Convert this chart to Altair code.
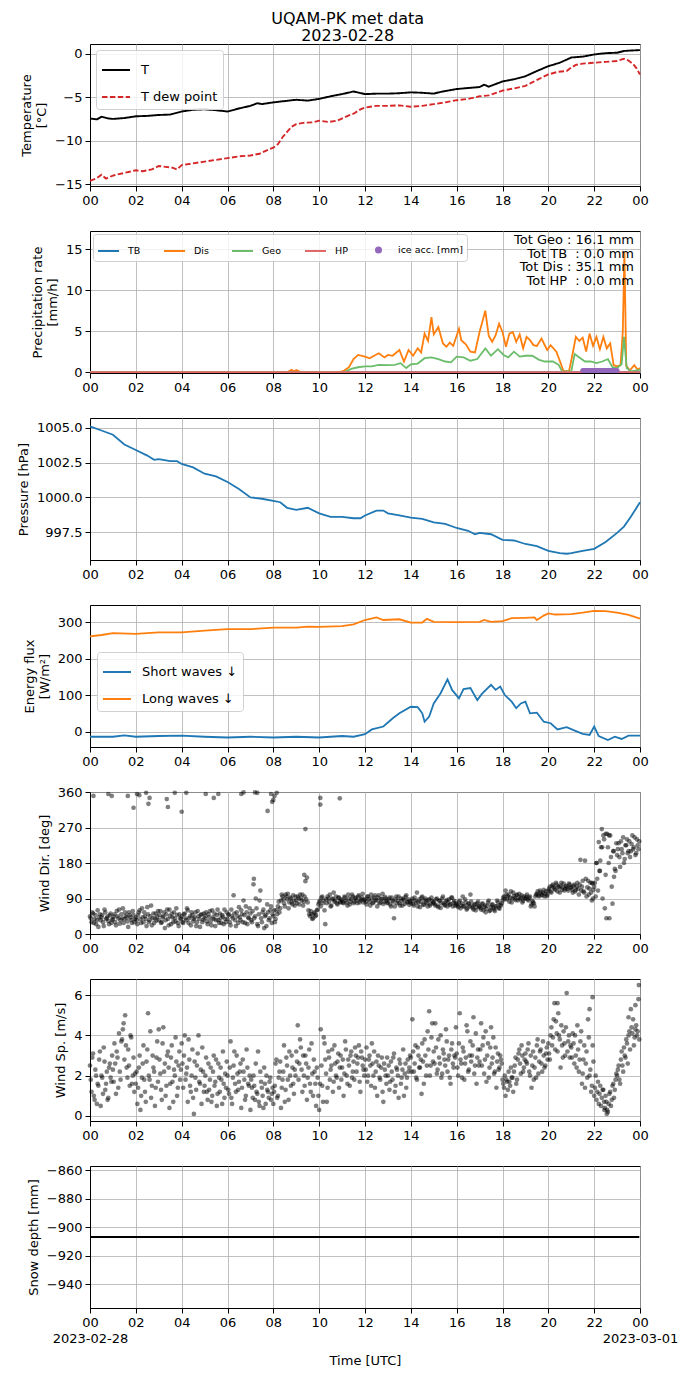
import altair as alt
import pandas as pd

FONT = "DejaVu Sans"
W, H = 550, 142

HOUR_TICKS = [0, 2, 4, 6, 8, 10, 12, 14, 16, 18, 20, 22, 24]

# ---------------- Temperature ----------------
t_hours = [0, 0.3, 0.5, 0.8, 1.0, 1.5, 2.0, 2.5, 3.0, 3.5, 4.0, 4.5, 5.0, 5.5, 6.0, 6.5, 7.0, 7.3, 7.5,
           8.0, 8.5, 9.0, 9.5, 10.0, 10.5, 11.0, 11.5, 12.0, 12.5, 13.0, 13.5, 14.0, 14.5, 15.0, 15.3,
           15.5, 16.0, 16.5, 17.0, 17.2, 17.4, 17.6, 18.0, 18.5, 19.0, 19.5, 20.0, 20.5, 21.0, 21.5,
           22.0, 22.5, 23.0, 23.3, 23.6, 24.0]
t_vals = [-7.45, -7.55, -7.25, -7.45, -7.5, -7.4, -7.2, -7.15, -7.05, -7.0, -6.65, -6.45, -6.4, -6.5,
          -6.65, -6.3, -6.0, -5.7, -5.8, -5.6, -5.45, -5.3, -5.4, -5.2, -4.9, -4.65, -4.35, -4.65,
          -4.6, -4.6, -4.55, -4.45, -4.5, -4.6, -4.4, -4.3, -4.07, -3.95, -3.84, -3.57, -3.8, -3.6,
          -3.2, -2.95, -2.6, -2.0, -1.45, -1.05, -0.45, -0.35, -0.1, 0.05, 0.1, 0.3, 0.35, 0.4]
td_hours = [0, 0.3, 0.5, 0.7, 1.0, 1.5, 2.0, 2.3, 2.7, 3.0, 3.3, 3.6, 3.8, 4.0, 4.5, 5.0, 5.5, 6.0,
            6.5, 7.0, 7.4, 7.8, 8.0, 8.2, 8.4, 8.6, 8.8, 9.0, 9.3, 9.7, 10.0, 10.4, 10.8, 11.2, 11.5,
            11.8, 12.0, 12.5, 13.0, 13.5, 14.0, 14.5, 15.0, 15.5, 16.0, 16.5, 17.0, 17.4, 18.0, 18.5,
            19.0, 19.3, 19.6, 20.0, 20.4, 20.8, 21.0, 21.2, 21.5, 22.0, 22.5, 23.0, 23.3, 23.5, 23.7,
            23.85, 24.0]
td_vals = [-14.6, -14.3, -13.9, -14.35, -14.0, -13.7, -13.4, -13.5, -13.3, -12.9, -13.0, -13.1, -13.3,
           -12.8, -12.6, -12.4, -12.2, -12.0, -11.8, -11.7, -11.5, -11.0, -10.8, -10.4, -9.6, -9.0,
           -8.4, -8.1, -7.95, -7.9, -7.7, -7.85, -7.7, -7.2, -6.9, -6.4, -6.2, -6.0, -6.0, -5.95,
           -6.1, -6.0, -5.8, -5.6, -5.35, -5.2, -4.9, -4.8, -4.25, -4.0, -3.7, -3.3, -2.9, -2.4,
           -2.1, -2.0, -1.6, -1.3, -1.15, -1.05, -0.95, -0.85, -0.6, -0.8, -1.2, -1.7, -2.4]

# ---------------- Precipitation ----------------
dis_pts = [(0, 0), (8.6, 0), (8.8, 0.3), (8.9, 0.1), (9.0, 0.25), (9.2, 0), (10.9, 0), (11.1, 0.2),
           (11.3, 0.6), (11.5, 1.6), (11.7, 2.1), (12.0, 1.9), (12.2, 1.7), (12.4, 2.0), (12.6, 2.3),
           (12.85, 1.8), (13.0, 2.1), (13.2, 2.0), (13.5, 2.7), (13.7, 1.3), (13.9, 2.7), (14.1, 2.0),
           (14.3, 2.9), (14.45, 2.4), (14.6, 4.7), (14.75, 3.8), (14.9, 6.7), (15.0, 4.6), (15.2, 5.5),
           (15.4, 3.5), (15.55, 3.1), (15.7, 3.6), (15.85, 3.2), (16.1, 5.3), (16.2, 3.9), (16.4, 3.4),
           (16.6, 2.5), (16.8, 2.4), (17.0, 4.9), (17.25, 7.5), (17.4, 4.4), (17.55, 3.7), (17.7, 4.5),
           (17.85, 5.9), (18.0, 4.9), (18.15, 3.1), (18.3, 4.7), (18.45, 4.9), (18.6, 3.7), (18.75, 4.6),
           (18.9, 2.9), (19.05, 4.3), (19.2, 3.9), (19.35, 3.3), (19.5, 3.2), (19.7, 4.1), (19.95, 2.7),
           (20.1, 3.3), (20.35, 2.5), (20.5, 1.4), (20.65, 0.2), (20.9, 0.1), (21.05, 2.1), (21.2, 4.3),
           (21.35, 3.8), (21.5, 4.2), (21.65, 2.5), (21.8, 4.7), (21.95, 3.2), (22.1, 4.3), (22.25, 2.8),
           (22.4, 4.3), (22.55, 2.9), (22.7, 3.5), (22.85, 0.85), (23.0, 0.7), (23.15, 0.85), (23.25, 5.0),
           (23.32, 14.6), (23.4, 0.8), (23.55, 0.2), (23.75, 0.85), (23.9, 0.3), (24.0, 0.5)]
geo_pts = [(0, 0), (11.1, 0), (11.4, 0.4), (11.7, 0.6), (12.0, 0.7), (12.3, 0.7), (12.6, 0.9), (13.0, 0.85),
           (13.3, 0.9), (13.55, 1.1), (13.8, 0.5), (14.0, 0.95), (14.3, 1.05), (14.6, 1.7), (14.9, 1.8),
           (15.2, 1.6), (15.5, 1.3), (15.75, 1.2), (16.0, 1.9), (16.3, 1.8), (16.6, 1.4), (16.9, 1.6),
           (17.25, 2.9), (17.5, 2.0), (17.8, 2.8), (18.05, 2.1), (18.25, 1.8), (18.5, 2.5), (18.75, 1.9),
           (19.0, 2.0), (19.3, 2.0), (19.6, 1.5), (19.85, 1.3), (20.2, 1.3), (20.45, 0.9), (20.6, 0.1),
           (21.0, 0.1), (21.15, 2.2), (21.4, 1.7), (21.6, 1.3), (21.85, 1.3), (22.1, 1.1), (22.35, 1.3),
           (22.6, 1.6), (22.8, 0.6), (23.0, 0.5), (23.2, 1.0), (23.3, 4.3), (23.42, 0.5), (23.6, 0.1),
           (23.8, 0.2), (24.0, 0.3)]
tb_pts = [(0, 0), (24, 0)]
hp_pts = [(0, 0), (24, 0)]
ice_hours = [21.5, 21.55, 21.6, 21.65, 21.7, 21.75, 21.8, 21.85, 21.9, 21.95, 22.0, 22.05, 22.1, 22.15,
             22.2, 22.25, 22.3, 22.35, 22.4, 22.45, 22.5, 22.55, 22.6, 22.65, 22.7, 22.75, 22.8, 22.85,
             22.9, 22.95, 23.0]
ice_vals = [0.2, 0.2, 0.2, 0.2, 0.2, 0.2, 0.2, 0.2, 0.2, 0.2, 0.2, 0.2, 0.2, 0.2, 0.2, 0.2, 0.2, 0.2,
            0.2, 0.2, 0.2, 0.2, 0.2, 0.2, 0.2, 0.2, 0.2, 0.2, 0.2, 0.2, 0.2]
tot_lines = ["Tot Geo : 16.1 mm", "Tot TB \u00a0: 0.0 mm", "Tot Dis : 35.1 mm", "Tot HP \u00a0: 0.0 mm"]

# ---------------- Pressure ----------------
p_hours = [0, 0.5, 1.0, 1.5, 2.0, 2.5, 2.8, 3.0, 3.5, 3.8, 4.0, 4.5, 5.0, 5.5, 6.0, 6.5, 7.0, 7.5, 8.0,
           8.3, 8.6, 9.0, 9.5, 10.0, 10.5, 11.0, 11.5, 11.8, 12.0, 12.5, 12.8, 13.0, 13.5, 14.0, 14.5,
           15.0, 15.5, 16.0, 16.5, 16.8, 17.0, 17.5, 18.0, 18.5, 19.0, 19.5, 20.0, 20.5, 20.8, 21.0,
           21.5, 22.0, 22.5, 23.0, 23.3, 23.6, 24.0]
p_vals = [1005.1, 1004.8, 1004.5, 1003.8, 1003.4, 1003.0, 1002.7, 1002.75, 1002.6, 1002.6, 1002.4,
          1002.15, 1001.7, 1001.5, 1001.1, 1000.6, 1000.0, 999.9, 999.75, 999.65, 999.25, 999.1,
          999.25, 998.85, 998.6, 998.6, 998.5, 998.5, 998.7, 999.05, 999.05, 998.85, 998.7, 998.55,
          998.45, 998.2, 998.1, 997.8, 997.6, 997.35, 997.45, 997.35, 996.95, 996.9, 996.65, 996.5,
          996.15, 996.0, 995.95, 996.0, 996.15, 996.3, 996.8, 997.45, 997.9, 998.6, 999.65]

# ---------------- Radiation ----------------
lw_hours = [0, 0.5, 1, 2, 3, 4, 5, 6, 7, 8, 9, 9.5, 10, 11, 11.5, 12, 12.5, 12.8, 13.5, 14, 14.5, 14.7,
            15, 16, 17, 17.2, 17.5, 18, 18.4, 19, 19.4, 19.5, 19.8, 20, 20.3, 21, 21.5, 22, 22.5, 23,
            23.5, 24]
lw_vals = [261, 265, 270, 268, 272, 272, 277, 281, 281, 285, 285, 288, 287, 289, 294, 306, 313, 306,
           308, 299, 299, 309, 301, 300, 301, 306, 301, 303, 311, 312, 313, 306, 318, 324, 321, 322,
           326, 331, 330, 326, 320, 310]
sw_hours = [0, 1, 1.5, 2, 3, 4, 5, 6, 7, 8, 9, 10, 10.5, 11, 11.5, 12, 12.3, 12.8, 13.2, 13.5, 14.0,
            14.3, 14.5, 14.6, 14.8, 15.0, 15.3, 15.6, 15.8, 16.1, 16.3, 16.6, 16.9, 17.1, 17.5, 17.7,
            17.9, 18.1, 18.4, 18.6, 18.8, 19.0, 19.2, 19.5, 19.8, 20.1, 20.4, 20.8, 21.1, 21.5, 21.8,
            22.0, 22.2, 22.6, 22.9, 23.2, 23.5, 24]
sw_vals = [-13, -13, -9, -13, -11, -10, -13, -15, -13, -15, -13, -15, -13, -11, -13, -6, 7, 15, 37, 51,
           69, 68, 51, 28, 42, 78, 106, 144, 115, 92, 117, 120, 87, 104, 129, 115, 124, 101, 83, 65,
           78, 83, 51, 53, 28, 24, 7, 13, 5, -5, -8, 15, -11, -22, -13, -19, -10, -10]

# ---------------- Wind (two interleaved sets of 15 samples per hour) ----------------
wd_rows = [
    [45, 30, 52, 38, 25, 60, 42, 35, 48, 20, 55, 40, 33, 47, 28],
    [38, 50, 22, 45, 62, 35, 40, 28, 55, 42, 18, 48, 36, 58, 30],
    [42, 25, 55, 38, 65, 30, 45, 20, 50, 35, 72, 40, 28, 52, 44],
    [35, 58, 30, 45, 15, 50, 38, 62, 25, 42, 55, 32, 48, 20, 40],
    [45, 28, 52, 35, 60, 40, 22, 48, 38, 55, 30, 45, 18, 50, 36],
    [40, 55, 25, 42, 32, 60, 38, 20, 48, 35, 52, 28, 44, 62, 30],
    [38, 50, 22, 45, 98, 35, 55, 28, 42, 60, 30, 48, 70, 25, 40],
    [52, 30, 126, 45, 65, 20, 85, 40, 55, 15, 48, 75, 35, 60, 28],
    [45, 30, 60, 70, 55, 85, 95, 78, 100, 88, 65, 92, 80, 98, 72],
    [85, 95, 75, 90, 100, 82, 134, 143, 60, 45, 50, 40, 55, 48, 62],
    [80, 70, 95, 85, 25, 78, 90, 100, 72, 88, 82, 95, 75, 92, 80],
    [85, 78, 92, 80, 100, 75, 88, 95, 82, 90, 78, 98, 85, 92, 80],
    [88, 75, 95, 82, 100, 78, 92, 85, 70, 98, 80, 90, 76, 94, 84],
    [80, 92, 70, 85, 40, 88, 78, 95, 72, 84, 90, 76, 98, 82, 74],
    [78, 90, 72, 85, 105, 80, 68, 92, 75, 86, 82, 70, 88, 76, 84],
    [80, 72, 90, 68, 85, 78, 95, 74, 82, 70, 88, 76, 92, 80, 72],
    [75, 68, 85, 72, 95, 70, 80, 65, 78, 100, 70, 62, 76, 68, 82],
    [70, 62, 78, 68, 55, 72, 85, 60, 74, 66, 58, 70, 80, 64, 72],
    [85, 95, 110, 88, 100, 92, 80, 105, 90, 98, 85, 102, 92, 80, 95],
    [90, 100, 85, 95, 75, 80, 70, 100, 108, 95, 105, 98, 112, 102, 96],
    [110, 120, 105, 125, 115, 130, 108, 118, 122, 112, 128, 115, 120, 110, 125],
    [118, 105, 125, 112, 130, 100, 188, 120, 108, 186, 95, 135, 115, 105, 128],
    [120, 95, 140, 233, 186, 266, 250, 65, 40, 220, 40, 195, 77, 145, 160],
    [200, 230, 170, 215, 245, 190, 225, 205, 235, 210, 250, 220, 200, 240, 215],
]
wd_rows_b = [
    [40, 55, 28, 48, 35, 18, 50, 42, 30, 62, 38, 45, 25, 52, 36],
    [44, 30, 58, 40, 26, 50, 65, 38, 46, 32, 55, 42, 28, 48, 38],
    [35, 48, 60, 28, 42, 55, 38, 68, 30, 45, 22, 52, 40, 34, 58],
    [48, 28, 42, 55, 35, 62, 22, 45, 52, 30, 40, 65, 28, 50, 38],
    [30, 50, 40, 65, 28, 45, 55, 32, 42, 20, 58, 38, 48, 30, 52],
    [45, 32, 50, 58, 22, 42, 52, 35, 62, 28, 40, 48, 25, 38, 55],
    [48, 30, 62, 40, 52, 20, 45, 68, 35, 50, 85, 28, 55, 42, 65],
    [35, 58, 40, 90, 25, 50, 110, 30, 62, 45, 20, 55, 40, 70, 50],
    [60, 38, 50, 82, 65, 100, 88, 70, 95, 102, 80, 90, 75, 85, 95],
    [78, 90, 100, 85, 72, 95, 88, 80, 50, 58, 38, 52, 45, 60, 75],
    [85, 92, 78, 60, 88, 95, 82, 70, 90, 105, 85, 78, 92, 82, 88],
    [80, 95, 85, 72, 90, 82, 100, 78, 92, 85, 95, 80, 88, 102, 86],
    [82, 95, 88, 72, 90, 80, 98, 86, 92, 78, 88, 102, 82, 90, 78],
    [88, 75, 92, 82, 70, 95, 84, 78, 90, 72, 86, 94, 80, 88, 82],
    [84, 76, 92, 80, 70, 88, 82, 95, 74, 90, 78, 86, 72, 92, 80],
    [76, 88, 72, 84, 66, 90, 78, 72, 86, 80, 74, 92, 70, 84, 78],
    [72, 80, 65, 78, 70, 88, 62, 75, 70, 82, 66, 74, 60, 78, 70],
    [66, 75, 60, 72, 64, 80, 58, 68, 75, 62, 70, 85, 66, 74, 78],
    [92, 88, 100, 95, 82, 108, 90, 96, 86, 100, 92, 88, 98, 84, 90],
    [95, 88, 92, 70, 85, 78, 95, 102, 98, 110, 100, 105, 95, 108, 100],
    [115, 108, 122, 118, 112, 125, 120, 105, 130, 118, 110, 122, 115, 128, 118],
    [112, 122, 108, 120, 115, 125, 110, 135, 105, 140, 118, 100, 130, 85, 112],
    [130, 180, 110, 160, 220, 90, 240, 150, 254, 180, 250, 120, 210, 165, 230],
    [215, 195, 235, 205, 180, 225, 240, 210, 195, 228, 215, 245, 205, 225, 235],
]
wd_extra_hours = [0.15, 0.8, 0.95, 1.65, 1.9, 2.05, 2.15, 2.45, 2.6, 2.55, 3.35, 3.4, 3.7, 4.0, 4.2,
                  5.05, 5.4, 5.6, 6.6, 6.7, 7.2, 7.3, 7.75, 7.9, 7.95, 8.0, 8.05, 8.15, 9.4, 10.05,
                  10.05, 10.9, 22.1, 22.35, 22.5, 22.65, 22.85, 22.25, 21.95, 21.9, 7.15, 9.35]
wd_extra_vals = [350, 355, 350, 350, 320, 355, 352, 358, 345, 330, 342, 322, 358, 310, 358,
                 355, 345, 355, 355, 359, 359, 358, 312, 355, 335, 340, 350, 358, 266, 345,
                 328, 344, 180, 220, 254, 250, 210, 160, 90, 130, 140, 150]

ws_rows = [
    [2.5, 1.2, 3.1, 0.8, 2.0, 1.6, 2.8, 0.5, 1.9, 3.4, 1.3, 2.2, 0.9, 2.6, 1.7],
    [2.3, 3.6, 1.1, 2.9, 4.1, 1.8, 3.8, 4.6, 5.0, 2.4, 3.3, 1.5, 3.9, 2.0, 1.2],
    [1.6, 0.6, 2.4, 0.3, 1.9, 3.5, 1.2, 2.7, 5.1, 1.8, 0.9, 3.0, 2.2, 1.4, 3.7],
    [4.3, 2.1, 0.8, 4.4, 2.6, 1.5, 3.2, 0.4, 2.9, 1.7, 2.3, 3.9, 1.0, 2.5, 1.8],
    [3.6, 1.4, 4.0, 2.1, 0.7, 2.8, 1.2, 3.3, 0.1, 1.9, 2.5, 4.0, 1.6, 0.6, 2.2],
    [1.5, 2.9, 0.8, 1.3, 2.4, 1.0, 3.0, 1.7, 0.5, 2.6, 1.2, 1.8, 3.2, 0.9, 1.4],
    [2.0, 1.1, 3.7, 0.6, 2.5, 1.6, 3.0, 1.3, 2.2, 0.4, 2.8, 1.8, 1.0, 2.4, 1.5],
    [0.3, 1.4, 2.0, 0.8, 1.2, 3.2, 0.5, 1.7, 1.0, 2.4, 0.6, 1.3, 0.9, 1.9, 1.1],
    [0.6, 1.5, 2.8, 1.0, 2.2, 0.4, 1.8, 3.5, 1.3, 2.5, 0.8, 2.0, 3.0, 1.6, 2.3],
    [3.2, 4.5, 2.6, 3.4, 1.2, 2.0, 3.0, 0.8, 2.4, 1.6, 3.6, 1.0, 2.2, 0.5, 1.9],
    [0.3, 4.3, 1.5, 3.9, 2.8, 0.7, 3.2, 1.8, 2.5, 1.2, 3.5, 2.0, 2.7, 1.4, 3.0],
    [2.4, 1.0, 3.7, 2.0, 2.8, 1.5, 3.2, 2.2, 1.8, 3.0, 2.6, 3.5, 1.2, 2.9, 2.3],
    [2.8, 3.4, 2.0, 3.0, 1.5, 2.6, 3.2, 2.2, 1.0, 2.5, 1.8, 2.9, 0.7, 2.3, 1.6],
    [2.0, 1.3, 2.7, 1.8, 3.1, 1.5, 2.3, 0.9, 2.6, 1.9, 3.3, 2.1, 1.4, 2.8, 2.4],
    [2.9, 4.8, 2.2, 3.5, 1.8, 3.0, 2.4, 1.1, 2.7, 3.8, 2.0, 4.2, 5.2, 2.5, 4.6],
    [3.2, 4.6, 2.1, 3.8, 2.6, 1.9, 3.3, 2.8, 4.3, 2.2, 3.0, 1.6, 3.6, 2.4, 2.9],
    [3.1, 2.0, 5.1, 2.6, 3.4, 1.8, 2.9, 4.2, 2.3, 3.7, 3.0, 4.9, 2.5, 1.6, 3.3],
    [2.7, 4.6, 3.5, 2.1, 4.2, 3.0, 1.9, 3.4, 2.6, 3.9, 2.2, 1.4, 3.1, 2.4, 2.8],
    [1.8, 1.4, 1.0, 1.7, 2.2, 1.5, 1.9, 1.2, 2.5, 1.6, 2.8, 3.3, 2.1, 3.0, 2.4],
    [3.1, 2.6, 3.6, 2.0, 1.4, 3.2, 2.4, 1.9, 3.8, 2.7, 3.3, 2.2, 3.0, 2.5, 3.4],
    [3.6, 2.8, 4.4, 3.9, 5.6, 4.7, 3.2, 4.0, 2.4, 3.5, 4.2, 3.0, 6.1, 3.7, 2.9],
    [3.4, 4.1, 2.6, 3.0, 4.5, 2.2, 3.7, 1.6, 2.8, 1.4, 3.2, 4.8, 2.0, 1.2, 3.5],
    [1.0, 2.0, 1.2, 0.6, 1.5, 0.9, 1.3, 0.4, 0.7, 0.2, 1.1, 0.5, 1.5, 0.9, 1.8],
    [2.0, 2.5, 1.6, 3.2, 2.2, 3.0, 3.8, 2.6, 4.2, 5.3, 4.1, 3.5, 4.3, 4.0, 5.8],
]
ws_rows_b = [
    [1.8, 2.9, 1.0, 2.3, 0.6, 1.5, 3.2, 2.0, 1.1, 2.7, 1.6, 0.8, 2.4, 1.9, 3.0],
    [1.7, 2.6, 3.2, 1.4, 2.2, 3.7, 4.3, 2.8, 3.5, 1.9, 2.5, 4.0, 1.6, 2.9, 2.1],
    [2.2, 1.4, 3.0, 1.0, 2.6, 1.8, 0.7, 3.3, 2.0, 4.2, 1.5, 2.4, 0.5, 2.9, 1.7],
    [2.8, 1.3, 3.6, 2.2, 1.0, 3.0, 2.4, 1.6, 3.5, 0.7, 2.0, 2.7, 1.4, 3.2, 2.3],
    [2.6, 3.0, 1.8, 2.4, 3.8, 1.5, 2.0, 0.9, 2.7, 1.3, 3.1, 1.7, 2.3, 3.4, 1.2],
    [2.0, 1.2, 2.6, 1.8, 0.7, 2.2, 1.5, 2.8, 1.1, 1.9, 2.4, 0.6, 1.6, 2.1, 2.7],
    [1.3, 2.4, 0.9, 1.9, 3.2, 1.2, 2.1, 1.7, 2.6, 1.4, 2.2, 0.8, 3.3, 1.6, 2.0],
    [1.8, 0.9, 1.5, 2.6, 1.1, 0.7, 2.2, 1.4, 0.4, 1.6, 2.0, 1.2, 1.7, 0.8, 1.4],
    [1.2, 2.6, 0.9, 1.9, 2.7, 1.4, 2.2, 0.7, 2.9, 1.8, 3.2, 1.5, 2.4, 1.1, 2.0],
    [2.7, 1.8, 3.8, 2.3, 3.0, 1.5, 2.6, 1.9, 3.3, 1.2, 2.1, 2.8, 1.6, 2.4, 1.0],
    [1.6, 2.5, 0.7, 3.6, 2.1, 1.4, 2.9, 2.3, 3.3, 1.7, 2.6, 1.9, 3.1, 2.4, 1.8],
    [2.8, 2.1, 3.3, 1.6, 2.5, 3.0, 1.9, 2.7, 3.4, 2.2, 2.9, 1.7, 3.2, 2.5, 2.0],
    [2.3, 1.7, 2.8, 2.5, 3.6, 2.0, 1.4, 2.7, 3.0, 1.9, 2.4, 1.2, 2.6, 2.0, 2.9],
    [2.5, 1.7, 2.2, 2.9, 1.2, 2.4, 2.0, 2.8, 1.6, 2.3, 1.0, 2.6, 1.9, 2.2, 3.0],
    [2.2, 3.2, 2.6, 1.9, 3.4, 2.4, 2.8, 3.6, 1.6, 3.0, 2.5, 3.3, 2.0, 3.9, 2.7],
    [2.6, 3.4, 2.3, 2.9, 4.0, 2.1, 3.1, 2.5, 3.7, 2.8, 1.9, 3.3, 2.6, 3.0, 4.4],
    [2.4, 3.6, 2.8, 1.9, 3.2, 2.6, 4.5, 2.2, 3.0, 2.7, 3.5, 2.1, 4.1, 2.9, 2.5],
    [3.3, 2.5, 3.9, 2.8, 1.7, 3.6, 2.4, 4.4, 2.9, 2.1, 3.4, 2.7, 2.3, 3.0, 2.6],
    [1.6, 2.0, 1.8, 1.3, 1.7, 2.4, 1.9, 2.2, 2.9, 1.8, 3.1, 2.6, 3.5, 2.2, 2.8],
    [2.7, 3.3, 2.2, 3.0, 2.5, 1.8, 2.9, 3.5, 2.1, 3.2, 2.6, 3.7, 2.4, 3.1, 2.8],
    [3.1, 4.0, 3.5, 4.8, 3.3, 4.1, 5.1, 3.8, 4.5, 2.9, 3.6, 4.4, 3.2, 4.0, 3.5],
    [2.9, 3.6, 4.0, 2.4, 3.3, 2.8, 4.2, 2.1, 3.5, 2.6, 1.9, 3.9, 2.3, 1.5, 2.7],
    [1.4, 0.8, 1.7, 1.1, 0.5, 1.3, 0.7, 1.0, 0.3, 0.6, 1.2, 0.8, 1.6, 1.3, 2.1],
    [2.3, 1.8, 2.8, 2.5, 3.4, 2.9, 3.6, 4.0, 3.3, 4.4, 4.8, 3.9, 4.5, 4.2, 3.8],
]
ws_extra_hours = [23.95, 23.8, 21.93, 21.8, 20.4, 22.55, 22.45, 23.5]
ws_extra_vals = [6.5, 5.5, 5.9, 5.3, 5.6, 0.1, 0.3, 4.9]

# ---------------- Snow depth ----------------
snow_hours = [0, 23.97]
snow_vals = [-906.8, -906.8]

# ================= build tables =================
def pts_df(pts, name):
    return pd.DataFrame({"h": [p[0] for p in pts], "v": [p[1] for p in pts], "series": name})


def rows_df(rows_a, rows_b, extra_h, extra_v):
    hs, vs = [], []
    for shift, rows in ((0.0, rows_a), (0.5, rows_b)):
        for hr, row in enumerate(rows):
            n = len(row)
            for k, val in enumerate(row):
                hs.append(hr + (k + shift) / n)
                vs.append(val)
    hs += extra_h
    vs += extra_v
    return pd.DataFrame({"h": hs, "v": vs})


LBL = "(datum.value % 24) < 10 ? '0' + (datum.value % 24) : '' + (datum.value % 24)"
LBL_LAST = ("datum.value == 0 ? ['00', '2023-02-28'] : datum.value == 24 ? ['00', '2023-03-01'] : ("
            + LBL + ")")


def xenc(last=False):
    return alt.X("h:Q", scale=alt.Scale(domain=[0, 24], nice=False, zero=False),
                 axis=alt.Axis(values=HOUR_TICKS, labelExpr=LBL_LAST if last else LBL,
                               title="Time [UTC]" if last else None, labelFlush=False,
                               labelOverlap=False, labelLineHeight=16, titlePadding=9))


def yenc(title, domain, ticks, fmt="d"):
    return alt.Y("v:Q", scale=alt.Scale(domain=domain, nice=False, zero=False),
                 axis=alt.Axis(values=ticks, title=title, format=fmt, labelOverlap=False,
                               labelFlush=False, titlePadding=6))


def line_legend(**kw):
    base = dict(title=None, labelFontSize=13, symbolType="stroke", symbolSize=784, symbolStrokeWidth=2,
                fillColor="rgba(255,255,255,0.8)", strokeColor="#d0d0d0", cornerRadius=3, padding=5,
                rowPadding=5, labelOffset=10)
    base.update(kw)
    return alt.Legend(**base)


# ---- panel 1
T_DOM = ["T", "T dew point"]
df_t = pd.concat([
    pd.DataFrame({"h": t_hours, "v": t_vals, "series": "T"}),
    pd.DataFrame({"h": td_hours, "v": td_vals, "series": "T dew point"}),
])
p1 = alt.Chart(df_t).mark_line(strokeWidth=1.9).encode(
    x=xenc(), y=yenc(["Temperature", "[°C]"], [-15.2, 1.1], [-15, -10, -5, 0]),
    color=alt.Color("series:N", scale=alt.Scale(domain=T_DOM, range=["black", "#d62728"]),
                    legend=line_legend(orient="top-left", offset=6)),
    strokeDash=alt.StrokeDash("series:N", scale=alt.Scale(domain=T_DOM, range=[[1, 0], [5.5, 2.4]]),
                              legend=line_legend(orient="top-left", offset=6)),
).properties(width=W, height=H)

# ---- panel 2
PREC_DOM = ["TB", "Dis", "Geo", "HP", "ice acc. [mm]"]
PREC_COL = ["#1f77b4", "#ff7f0e", "#6bbd6b", "#e26868", "#9467bd"]
DOT = "M-0.24,0A0.24,0.24,0,1,0,0.24,0A0.24,0.24,0,1,0,-0.24,0Z"
PREC_SHAPE = ["stroke", "stroke", "stroke", "stroke", DOT]
prec_legend = alt.Legend(title=None, orient="top-left", offset=3, direction="horizontal", columns=5,
                         labelFontSize=9.5, symbolSize=441, symbolStrokeWidth=2, columnPadding=19,
                         labelOffset=8, fillColor="rgba(255,255,255,0.8)", strokeColor="#d0d0d0",
                         cornerRadius=3, padding=4, symbolFillColor="#9467bd")
df_p = pd.concat([pts_df(tb_pts, "TB"), pts_df(dis_pts, "Dis"), pts_df(geo_pts, "Geo"), pts_df(hp_pts, "HP")])
df_ice = pd.DataFrame({"h": ice_hours, "v": ice_vals, "series": "ice acc. [mm]"})
col2 = alt.Color("series:N", scale=alt.Scale(domain=PREC_DOM, range=PREC_COL), legend=prec_legend)
shp2 = alt.Shape("series:N", scale=alt.Scale(domain=PREC_DOM, range=PREC_SHAPE), legend=prec_legend)
y2 = yenc(["Precipitation rate", "[mm/h]"], [-0.1, 17.2], [0, 5, 10, 15])
lines2 = alt.Chart(df_p).mark_line(strokeWidth=1.8).encode(x=xenc(), y=y2, color=col2)
ice2 = alt.Chart(df_ice).mark_point(filled=True, size=441, opacity=1).encode(x=xenc(), y=y2, color=col2, shape=shp2)
txt2 = alt.Chart(pd.DataFrame({"t": ["\n".join(tot_lines)]})).mark_text(
    align="right", baseline="top", fontSize=13, lineBreak="\n", lineHeight=13.5, font=FONT, color="black"
).encode(text="t:N", x=alt.value(W - 6), y=alt.value(3))
p2 = alt.layer(lines2, ice2, txt2).properties(width=W, height=H)

# ---- panel 3
df_pr = pd.DataFrame({"h": p_hours, "v": p_vals})
p3 = alt.Chart(df_pr).mark_line(strokeWidth=1.8, color="#1f77b4").encode(
    x=xenc(), y=yenc("Pressure [hPa]", [995.5, 1005.7], [997.5, 1000.0, 1002.5, 1005.0], ".1f")
).properties(width=W, height=H)

# ---- panel 4
RAD_DOM = ["Short waves ↓", "Long waves ↓"]
df_rad = pd.concat([
    pd.DataFrame({"h": sw_hours, "v": sw_vals, "series": RAD_DOM[0]}),
    pd.DataFrame({"h": lw_hours, "v": lw_vals, "series": RAD_DOM[1]}),
])
p4 = alt.Chart(df_rad).mark_line(strokeWidth=1.8).encode(
    x=xenc(), y=yenc(["Energy flux", "[W/m²]"], [-41, 347], [0, 100, 200, 300]),
    color=alt.Color("series:N", scale=alt.Scale(domain=RAD_DOM, range=["#1f77b4", "#ff7f0e"]),
                    legend=line_legend(orient="none", legendX=7, legendY=47)),
).properties(width=W, height=H)

# ---- panel 5
df_wd = rows_df(wd_rows, wd_rows_b, wd_extra_hours, wd_extra_vals)
p5 = alt.Chart(df_wd).mark_circle(size=22, opacity=0.5, color="black").encode(
    x=xenc(), y=yenc("Wind Dir. [deg]", [0, 360], [0, 90, 180, 270, 360])
).properties(width=W, height=H)

# ---- panel 6
df_ws = rows_df(ws_rows, ws_rows_b, ws_extra_hours, ws_extra_vals)
p6 = alt.Chart(df_ws).mark_circle(size=22, opacity=0.5, color="black").encode(
    x=xenc(), y=yenc("Wind Sp. [m/s]", [-0.25, 6.8], [0, 2, 4, 6])
).properties(width=W, height=H)

# ---- panel 7
df_sn = pd.DataFrame({"h": snow_hours, "v": snow_vals})
p7 = alt.Chart(df_sn).mark_line(strokeWidth=2, color="black").encode(
    x=xenc(last=True), y=yenc("Snow depth [mm]", [-956.6, -857], [-940, -920, -900, -880, -860])
).properties(width=W, height=H)

chart = alt.vconcat(p1, p2, p3, p4, p5, p6, p7, spacing=45, bounds="flush").resolve_scale(
    color="independent", strokeDash="independent", shape="independent"
).resolve_legend(
    color="independent", strokeDash="independent", shape="independent"
).properties(
    title=alt.TitleParams(["UQAM-PK met data", "2023-02-28"], fontSize=16, fontWeight="normal",
                          font=FONT, anchor="middle", color="black", lineHeight=16.5, offset=0),
    padding={"left": 9, "top": 3, "right": 0, "bottom": 4},
).configure_view(stroke="black", strokeWidth=1).configure_axis(
    grid=True, gridColor="#b0b0b0", gridWidth=0.8, domainColor="black", tickColor="black", tickSize=5,
    labelFontSize=13, labelFont=FONT, labelColor="black", labelPadding=3, titleFont=FONT,
    titleFontSize=13, titleFontWeight="normal", titleColor="black",
).configure_legend(labelFont=FONT, labelColor="black").configure_text(font=FONT)

chart.save("out.html", embed_options={"renderer": "svg", "actions": False})
